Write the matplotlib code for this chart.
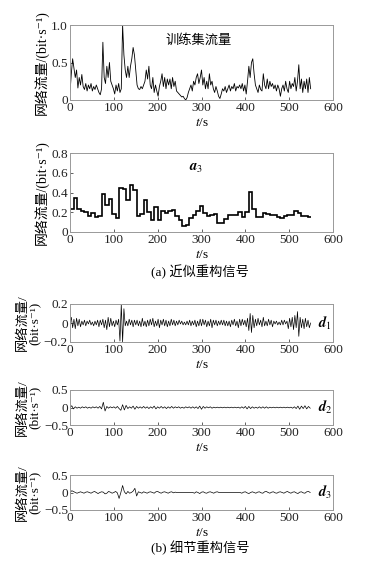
import numpy as np
import matplotlib
matplotlib.use("Agg")
import matplotlib.pyplot as plt

plt.rcParams['font.family'] = ['Liberation Serif', 'Noto Sans CJK SC', 'DejaVu Serif']
plt.rcParams['mathtext.fontset'] = 'stix'
plt.rcParams['axes.unicode_minus'] = True

# training traffic, one value every 3 s (t = 0 .. 549)
traffic_t = np.arange(0, 550, 3)
traffic = [
    0.10, 0.35, 0.55, 0.42, 0.30, 0.40, 0.16, 0.30, 0.20, 0.34,
    0.18, 0.14, 0.22, 0.12, 0.20, 0.15, 0.22, 0.12, 0.18, 0.14,
    0.20, 0.15, 0.10, 0.07, 0.15, 0.77, 0.30, 0.22, 0.45, 0.30,
    0.50, 0.25, 0.20, 0.15, 0.08, 0.20, 0.12, 0.22, 0.10, 0.15,
    1.00, 0.60, 0.40, 0.30, 0.45, 0.30, 0.45, 0.55, 0.70, 0.60,
    0.40, 0.20, 0.15, 0.14, 0.18, 0.15, 0.20, 0.25, 0.40, 0.28,
    0.45, 0.20, 0.15, 0.30, 0.10, 0.20, 0.12, 0.05, 0.18, 0.25,
    0.35, 0.18, 0.30, 0.15, 0.28, 0.20, 0.28, 0.15, 0.30, 0.18,
    0.25, 0.12, 0.10, 0.08, 0.06, 0.04, 0.05, 0.02, 0.00, 0.03,
    0.10, 0.15, 0.20, 0.12, 0.25, 0.20, 0.30, 0.35, 0.22, 0.30,
    0.40, 0.20, 0.30, 0.15, 0.25, 0.15, 0.35, 0.20, 0.25, 0.15,
    0.10, 0.18, 0.12, 0.05, 0.02, 0.08, 0.15, 0.12, 0.18, 0.10,
    0.15, 0.20, 0.12, 0.18, 0.15, 0.22, 0.12, 0.18, 0.16, 0.20,
    0.15, 0.22, 0.12, 0.20, 0.08, 0.25, 0.45, 0.30, 0.50, 0.55,
    0.35, 0.20, 0.15, 0.10, 0.20, 0.14, 0.12, 0.35, 0.20, 0.15,
    0.28, 0.15, 0.25, 0.18, 0.22, 0.15, 0.20, 0.12, 0.20, 0.15,
    0.05, 0.15, 0.20, 0.12, 0.25, 0.15, 0.10, 0.25, 0.15, 0.22,
    0.18, 0.30, 0.12, 0.25, 0.47, 0.15, 0.28, 0.10, 0.25, 0.15,
    0.28, 0.10, 0.30, 0.15,
]

# approximation a3, one level per 8 s block
a3_edges = list(range(0, 550, 8)) + [550]
a3 = [
    0.23, 0.34, 0.23, 0.21, 0.20, 0.16, 0.19, 0.15, 0.16, 0.38,
    0.27, 0.33, 0.18, 0.14, 0.45, 0.44, 0.32, 0.48, 0.43, 0.16,
    0.18, 0.32, 0.20, 0.12, 0.25, 0.12, 0.21, 0.19, 0.21, 0.22,
    0.16, 0.12, 0.06, 0.07, 0.14, 0.17, 0.21, 0.26, 0.19, 0.16,
    0.17, 0.18, 0.09, 0.09, 0.13, 0.17, 0.17, 0.17, 0.20, 0.15,
    0.20, 0.41, 0.23, 0.15, 0.15, 0.19, 0.18, 0.17, 0.17, 0.15,
    0.14, 0.16, 0.17, 0.17, 0.21, 0.19, 0.16, 0.16, 0.15,
]

# detail d1, every 3 s
d1_t = np.arange(0, 550, 3)
d1 = [
    0.00, 0.06, -0.05, 0.04, -0.06, 0.05, -0.03, 0.04, -0.04, 0.02,
    -0.02, 0.03, -0.03, 0.02, -0.01, 0.03, -0.02, 0.01, -0.03, 0.02,
    -0.02, 0.03, -0.04, 0.03, -0.02, 0.04, -0.05, 0.03, -0.07, 0.06,
    -0.04, 0.05, -0.03, 0.02, -0.04, 0.03, -0.02, 0.04, -0.19, 0.20,
    -0.20, 0.15, -0.03, 0.02, -0.03, 0.04, -0.02, 0.03, -0.04, 0.03,
    -0.02, 0.03, -0.03, 0.02, -0.04, 0.05, -0.03, 0.02, -0.04, 0.03,
    -0.03, 0.04, -0.02, 0.05, -0.04, 0.02, -0.03, 0.04, -0.05, 0.03,
    -0.02, 0.04, -0.03, 0.03, -0.04, 0.02, -0.03, 0.04, -0.02, 0.03,
    -0.03, 0.02, -0.02, 0.03, -0.01, 0.02, -0.02, 0.01, -0.02, 0.02,
    -0.02, 0.03, -0.03, 0.02, -0.02, 0.03, -0.04, 0.02, -0.03, 0.04,
    -0.03, 0.04, -0.02, 0.03, -0.04, 0.02, -0.03, 0.04, -0.05, 0.03,
    -0.02, 0.03, -0.03, 0.02, -0.02, 0.03, -0.02, 0.03, -0.03, 0.02,
    -0.03, 0.02, -0.04, 0.03, -0.02, 0.04, -0.03, 0.02, -0.05, 0.04,
    -0.03, 0.04, -0.02, 0.03, -0.04, 0.05, -0.08, 0.10, -0.10, 0.08,
    -0.05, 0.04, -0.03, 0.05, -0.02, 0.03, -0.04, 0.06, -0.03, 0.02,
    -0.03, 0.04, -0.02, 0.03, -0.04, 0.02, -0.01, 0.02, -0.02, 0.01,
    -0.02, 0.03, -0.02, 0.03, -0.01, 0.02, -0.06, 0.05, -0.04, 0.06,
    -0.07, 0.08, -0.05, 0.12, -0.14, 0.06, -0.05, 0.04, -0.06, 0.05,
    -0.04, 0.03, -0.05, 0.00,
]

# detail d2, every 4 s
d2_t = np.arange(0, 550, 4)
d2 = [
    0.00, 0.05, -0.04, 0.02, -0.02, 0.01, -0.02, 0.02, -0.01, 0.02,
    -0.02, 0.01, -0.02, 0.02, -0.01, 0.02, -0.02, 0.03, -0.04, 0.15,
    -0.10, 0.03, -0.02, 0.02, -0.01, 0.02, -0.02, 0.03, -0.03, -0.08,
    0.08, -0.07, 0.06, -0.03, 0.02, -0.02, 0.04, -0.05, 0.03, -0.02,
    0.02, -0.02, 0.03, -0.02, 0.02, -0.03, 0.02, -0.02, 0.04, -0.04,
    0.02, -0.02, 0.03, -0.02, 0.02, -0.03, 0.02, -0.02, 0.03, -0.02,
    0.02, -0.01, 0.02, -0.02, 0.01, -0.02, 0.02, -0.01, 0.02, -0.02,
    0.02, -0.02, 0.02, -0.03, 0.04, -0.05, 0.03, -0.02, 0.02, -0.01,
    0.02, -0.02, 0.01, -0.01, 0.01, -0.01, 0.01, -0.01, 0.01, -0.01,
    0.01, -0.01, 0.01, -0.01, 0.01, -0.01, 0.01, -0.02, 0.02, -0.02,
    0.03, -0.04, 0.03, -0.03, 0.02, -0.02, 0.01, -0.02, 0.02, -0.02,
    0.02, -0.02, 0.02, -0.02, 0.01, -0.01, 0.01, -0.01, 0.01, -0.01,
    0.01, -0.01, 0.01, -0.01, 0.01, -0.01, 0.01, -0.02, 0.02, -0.03,
    0.04, -0.05, 0.04, -0.03, 0.05, -0.04, 0.03, -0.02,
]

# detail d3, every 4 s
d3_t = np.arange(0, 550, 4)
d3 = [
    0.00, 0.05, 0.03, 0.00, -0.02, 0.00, 0.02, 0.00, -0.02, 0.01,
    0.02, 0.00, -0.02, 0.01, 0.03, 0.00, -0.03, 0.00, 0.02, 0.01,
    -0.04, -0.02, 0.03, 0.01, -0.02, 0.00, 0.03, -0.01, -0.17, 0.00,
    0.20, 0.02, -0.04, 0.03, -0.02, 0.00, 0.04, 0.12, -0.10, 0.02,
    0.00, -0.02, 0.02, 0.00, -0.02, 0.01, 0.02, 0.00, -0.02, 0.02,
    0.03, 0.00, -0.02, 0.01, 0.02, 0.00, -0.02, 0.01, 0.02, -0.01,
    0.01, 0.00, 0.00, 0.00, 0.00, 0.00, 0.00, 0.00, 0.00, 0.00,
    0.00, -0.02, 0.02, 0.00, -0.03, 0.01, 0.02, -0.01, -0.02, 0.01,
    0.02, 0.00, -0.02, 0.01, 0.02, 0.00, 0.00, 0.00, 0.00, 0.00,
    0.00, 0.00, 0.00, 0.00, 0.00, 0.00, 0.00, 0.00, -0.02, 0.01,
    0.02, -0.01, -0.03, 0.00, 0.02, 0.00, -0.02, 0.01, 0.02, -0.01,
    -0.02, 0.02, 0.03, 0.00, -0.02, 0.01, 0.02, -0.01, -0.02, 0.01,
    0.02, 0.00, -0.02, 0.01, 0.03, 0.00, -0.02, 0.01, 0.02, -0.01,
    -0.03, 0.01, 0.02, -0.01, -0.02, 0.02, 0.03, 0.00,
]

xticks = [0, 100, 200, 300, 400, 500, 600]
ylab1 = '网络流量/(bit·s⁻¹)'
ylab2 = '网络流量/\n(bit·s⁻¹)'
fs = 9.5

fig = plt.figure(figsize=(3.66, 5.63), dpi=100)
W, H = 366.0, 563.0


def make_ax(top, bottom, left=70, right=333):
    return fig.add_axes([left / W, 1 - bottom / H, (right - left) / W, (bottom - top) / H])


def style(ax, yticks, ylabels, ylabel, yfs):
    ax.set_xlim(0, 600)
    ax.set_xticks(xticks)
    ax.set_xticklabels([str(v) for v in xticks])
    ax.set_yticks(yticks)
    ax.set_yticklabels(ylabels)
    ax.set_ylim(yticks[0], yticks[-1])
    ax.tick_params(direction='in', length=2, width=0.5, labelsize=fs, pad=1.5, colors='#222222')
    for s in ax.spines.values():
        s.set_color('#999999')
        s.set_linewidth(0.7)
    ax.set_xlabel('$t$/s', fontsize=fs, labelpad=2)
    ax.set_ylabel(ylabel, fontsize=yfs, labelpad=2, linespacing=1.0)


ax1 = make_ax(25, 100)
ax1.plot(traffic_t, traffic, color='black', lw=0.6)
style(ax1, [0, 0.5, 1.0], ['0', '0.5', '1.0'], ylab1, fs + 0.5)
ax1.text(0.49, 0.8, '训练集流量', transform=ax1.transAxes, ha='center', va='center', fontsize=fs)

ax2 = make_ax(153, 232)
ax2.stairs(a3, a3_edges, color='black', lw=1.2, baseline=None)
style(ax2, [0, 0.2, 0.4, 0.6, 0.8], ['0', '0.2', '0.4', '0.6', '0.8'], ylab1, fs + 0.5)
ax2.text(0.48, 0.81, r'$\boldsymbol{a}_3$', transform=ax2.transAxes, ha='center', va='center', fontsize=fs + 1)

ax3 = make_ax(304, 342)
ax3.plot(d1_t, d1, color='black', lw=0.5)
style(ax3, [-0.2, 0, 0.2], ['\u22120.2', '0', '0.2'], ylab2, fs)
ax3.text(0.97, 0.5, r'$\boldsymbol{d}_1$', transform=ax3.transAxes, ha='center', va='center', fontsize=fs + 1)

ax4 = make_ax(390, 425)
ax4.plot(d2_t, d2, color='black', lw=0.5)
style(ax4, [-0.5, 0, 0.5], ['\u22120.5', '0', '0.5'], ylab2, fs)
ax4.text(0.97, 0.5, r'$\boldsymbol{d}_2$', transform=ax4.transAxes, ha='center', va='center', fontsize=fs + 1)

ax5 = make_ax(475, 510)
ax5.plot(d3_t, d3, color='black', lw=0.5)
style(ax5, [-0.5, 0, 0.5], ['\u22120.5', '0', '0.5'], ylab2, fs)
ax5.text(0.97, 0.5, r'$\boldsymbol{d}_3$', transform=ax5.transAxes, ha='center', va='center', fontsize=fs + 1)

fig.text(200 / W, 1 - 272 / H, '(a) 近似重构信号', ha='center', va='center', fontsize=fs)
fig.text(200 / W, 1 - 548 / H, '(b) 细节重构信号', ha='center', va='center', fontsize=fs)

fig.savefig('out.png', dpi=100)
